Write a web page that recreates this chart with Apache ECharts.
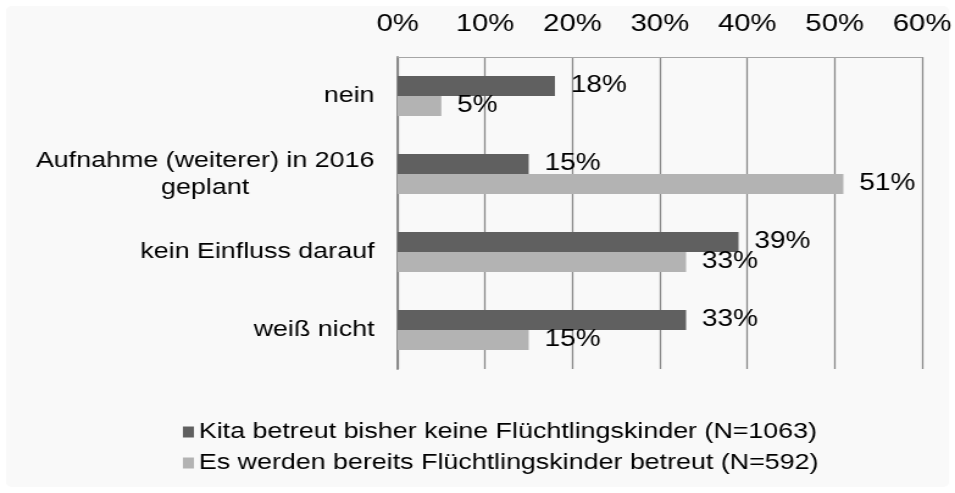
<!DOCTYPE html>
<html>
<head>
<meta charset="utf-8">
<script src="https://cdn.jsdelivr.net/npm/echarts@6/dist/echarts.min.js"></script>
<style>
html,body{margin:0;padding:0;background:#ffffff;overflow:hidden;}
#wrap{width:955px;height:493px;overflow:hidden;}
#c{width:783px;height:493px;transform:scaleX(1.21967);transform-origin:0 0;}
</style>
</head>
<body>
<div id="wrap"><div id="c"></div></div>
<script>
const categories = ['nein', 'Aufnahme (weiterer) in 2016\ngeplant', 'kein Einfluss darauf', 'weiß nicht'];
const seriesNames = ['Kita betreut bisher keine Flüchtlingskinder (N=1063)', 'Es werden bereits Flüchtlingskinder betreut (N=592)'];
const noRefugees = [18, 15, 39, 33];
const alreadyRefugees = [5, 51, 33, 15];
const tickMin = 0, tickMax = 60, tickStep = 10;

const FONT = "'Liberation Sans', Arial, sans-serif";
const chart = echarts.init(document.getElementById('c'), null, {renderer: 'canvas'});
const labelStyle = {
  show: true, position: 'right', distance: 13,
  formatter: p => p.value + '%',
  color: '#000', fontSize: 23, fontFamily: FONT
};
chart.setOption({
  backgroundColor: '#ffffff',
  animation: false,
  graphic: [{
    type: 'rect', z: -10, silent: true,
    shape: {x: 5, y: 6, width: 773, height: 481, r: 5},
    style: {fill: '#f9f9f9'}
  }],
  grid: {left: 326, right: 27, top: 57, bottom: 124, containLabel: false},
  xAxis: {
    type: 'value', position: 'top', min: tickMin, max: tickMax, interval: tickStep,
    axisLine: {show: true, lineStyle: {color: '#a6a6a6', width: 1}},
    axisTick: {show: false},
    splitLine: {show: true, lineStyle: {color: '#8a8a8a', width: 1.3}},
    axisLabel: {formatter: '{value}%', color: '#000', fontSize: 24, fontFamily: FONT, margin: 21}
  },
  yAxis: {
    type: 'category', inverse: true, data: categories,
    axisLine: {show: true, lineStyle: {color: '#868686', width: 1.8}},
    axisTick: {show: false},
    axisLabel: {
      color: '#000', fontSize: 22, fontFamily: FONT, margin: 19,
      formatter: v => v.split('\n').map(s => '{c|' + s + '}').join('\n'),
      rich: {c: {align: 'center', fontSize: 22, fontFamily: FONT, color: '#000', lineHeight: 27}}
    }
  },
  legend: {
    orient: 'vertical', left: 150, top: 421, padding: 0,
    itemWidth: 9, itemHeight: 11, itemGap: 9, icon: 'rect',
    textStyle: {color: '#000', fontSize: 22, fontFamily: FONT, padding: [0, 0, 0, -1]},
    data: seriesNames
  },
  series: [
    {name: seriesNames[0], type: 'bar', data: noRefugees, barWidth: 20, barGap: '0%',
     itemStyle: {color: '#606060'}, label: labelStyle},
    {name: seriesNames[1], type: 'bar', data: alreadyRefugees, barWidth: 20, barGap: '0%',
     itemStyle: {color: '#b3b3b3'}, label: labelStyle}
  ]
});
</script>
</body>
</html>
